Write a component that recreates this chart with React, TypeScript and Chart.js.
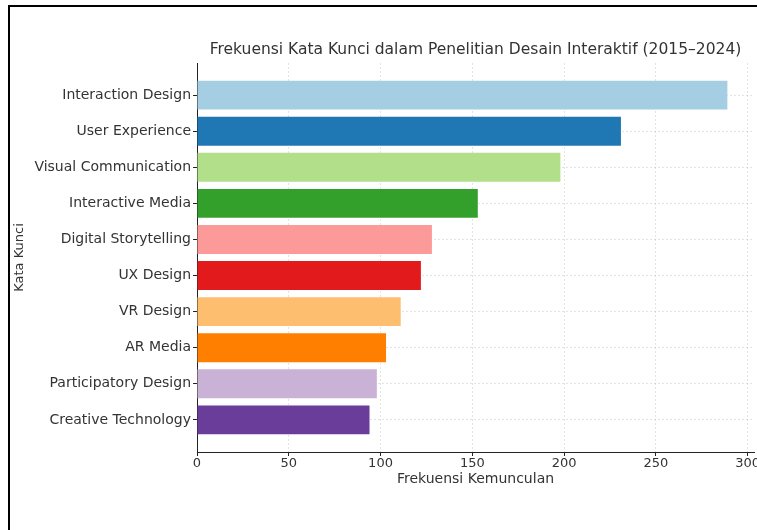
import React, { useEffect, useRef } from "react";
import { Chart, registerables } from "chart.js";

Chart.register(...registerables);

const categories = [
  "Interaction Design",
  "User Experience",
  "Visual Communication",
  "Interactive Media",
  "Digital Storytelling",
  "UX Design",
  "VR Design",
  "AR Media",
  "Participatory Design",
  "Creative Technology",
];
const frequencies = [289, 231, 198, 153, 128, 122, 111, 103, 98, 94];
const barColors = [
  "#a6cee3",
  "#1f78b4",
  "#b2df8a",
  "#33a02c",
  "#fb9a99",
  "#e31a1c",
  "#fdbf6f",
  "#ff7f00",
  "#cab2d6",
  "#6a3d9a",
];
const xTickValues = [0, 50, 100, 150, 200, 250, 300];
const chartTitle = "Frekuensi Kata Kunci dalam Penelitian Desain Interaktif (2015–2024)";
const xAxisTitle = "Frekuensi Kemunculan";
const yAxisTitle = "Kata Kunci";

const FONT = "'DejaVu Sans', sans-serif";
const TEXT = "#333";
const GRID = "rgba(0,0,0,0.11)";

export default function App() {
  const ref = useRef<HTMLCanvasElement>(null);

  useEffect(() => {
    const canvas = ref.current;
    if (!canvas) return;
    Chart.defaults.font.family = FONT;

    const titlePlugin = {
      id: "centeredTitle",
      afterDraw(chart: any) {
        const { ctx, chartArea } = chart;
        ctx.save();
        ctx.font = `15.5px ${FONT}`;
        ctx.fillStyle = TEXT;
        ctx.textAlign = "center";
        ctx.textBaseline = "middle";
        ctx.fillText(chartTitle, (chartArea.left + chartArea.right) / 2, 49.5);
        ctx.restore();
      },
    };

    const chart = new Chart(canvas, {
      type: "bar",
      data: {
        datasets: [
          {
            data: frequencies.map((v, i) => ({ x: v, y: i })),
            backgroundColor: barColors,
            borderWidth: 0,
            barPercentage: 0.8,
            categoryPercentage: 1,
          },
        ],
      },
      options: {
        indexAxis: "y",
        animation: false,
        responsive: false,
        layout: { padding: { left: 8, top: 63, right: 3, bottom: 38 } },
        plugins: {
          legend: { display: false },
          tooltip: { enabled: false },
          title: { display: false },
        },
        scales: {
          x: {
            type: "linear",
            position: "bottom",
            min: 0,
            max: 303.5,
            z: 1,
            afterBuildTicks: (s: any) => {
              s.ticks = xTickValues.map((v) => ({ value: v }));
            },
            afterFit: (s: any) => {
              s.height = 40;
              s.paddingLeft = 0;
              s.paddingRight = 0;
            },
            ticks: {
              font: { size: 13 },
              color: TEXT,
              padding: 0,
              maxRotation: 0,
              autoSkip: false,
            },
            grid: {
              color: GRID,
              lineWidth: 1,
              tickLength: 4,
              tickColor: "#222",
              tickBorderDash: [],
            },
            border: { display: true, color: "#222", width: 1, dash: [2, 2] },
            title: {
              display: true,
              text: xAxisTitle,
              font: { size: 14 },
              color: TEXT,
              padding: { top: 4, bottom: 4 },
            },
          },
          y: {
            type: "linear",
            min: -0.89,
            max: 9.89,
            reverse: true,
            offset: false,
            z: 1,
            afterBuildTicks: (s: any) => {
              s.ticks = categories.map((_, i) => ({ value: i }));
            },
            afterFit: (s: any) => {
              s.width = 189;
              s.paddingTop = 0;
              s.paddingBottom = 0;
            },
            ticks: {
              callback: (_v: any, i: number) => categories[i],
              font: { size: 14 },
              color: TEXT,
              padding: 2,
              autoSkip: false,
            },
            grid: {
              offset: false,
              color: GRID,
              lineWidth: 1,
              tickLength: 4,
              tickColor: "#222",
              tickBorderDash: [],
            },
            border: { display: true, color: "#222", width: 1, dash: [2, 2] },
            title: {
              display: true,
              text: yAxisTitle,
              font: { size: 13 },
              color: TEXT,
              padding: { top: 4, bottom: 4 },
            },
          },
        },
      },
      plugins: [titlePlugin],
    } as any);

    return () => chart.destroy();
  }, []);

  return (
    <div
      style={{
        position: "fixed",
        left: 0,
        top: 0,
        width: 757,
        height: 530,
        overflow: "hidden",
        background: "#fff",
      }}
    >
      <canvas
        ref={ref}
        width={757}
        height={530}
        style={{ position: "absolute", left: 0, top: 0, width: 757, height: 530 }}
      />
      <div
        style={{
          position: "absolute",
          left: 8,
          top: 5,
          width: 800,
          height: 600,
          borderTop: "2px solid #000",
          borderLeft: "2px solid #000",
          boxSizing: "border-box",
          pointerEvents: "none",
        }}
      />
    </div>
  );
}
